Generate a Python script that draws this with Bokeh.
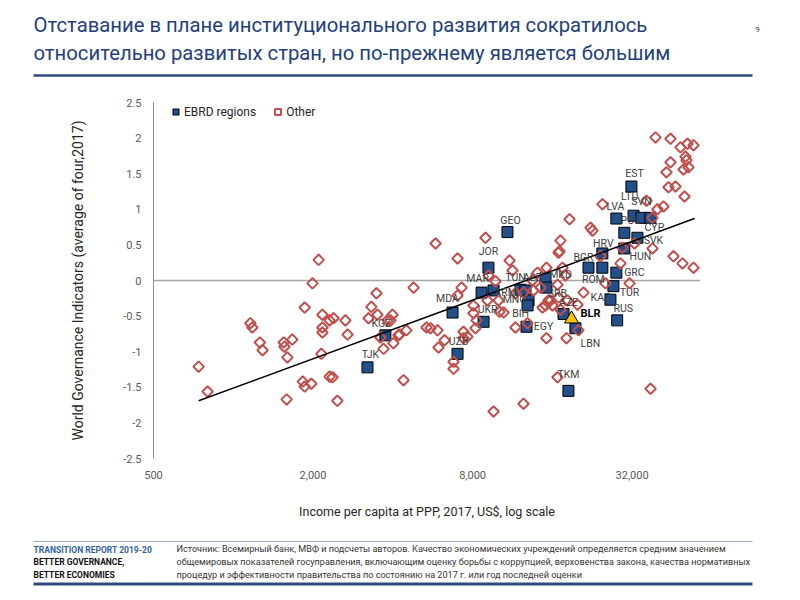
import numpy as np
from bokeh.plotting import figure
from bokeh.layouts import column
from bokeh.models import (ColumnDataSource, Range1d, FixedTicker, NumeralTickFormatter,
                          CustomJSTickFormatter, Span, Legend, LegendItem)
from bokeh.core.properties import value
from bokeh.embed import file_html
from bokeh.resources import INLINE

FONT = "Roboto"

# --- data ---
ebrd_codes = ["TJK", "KGZ", "MDA", "UZB", "UKR", "MAR", "JOR", "ARM", "GEO", "TUN",
              "ALB", "MNG", "BIH", "EGY", "MKD", "SRB", "AZE", "LBN", "TKM", "BGR",
              "ROM", "HRV", "KAZ", "TUR", "GRC", "LVA", "RUS", "POL", "HUN", "EST",
              "LTU", "SVK", "SVN", "CYP"]
ebrd_income = [3210, 3750, 6720, 7020, 8800, 8650, 9180, 9600, 10830, 12130,
               12670, 13010, 12900, 12780, 15070, 15200, 17630, 19550, 18400, 21900,
               24700, 24700, 26500, 27200, 27900, 27900, 28100, 29900, 29900, 31800,
               32400, 33500, 34700, 37500]
ebrd_wgi = [-1.22, -0.77, -0.45, -1.03, -0.58, -0.17, 0.18, -0.14, 0.68, -0.13,
            -0.14, -0.28, -0.35, -0.65, 0.03, -0.10, -0.47, -0.67, -1.55, 0.18,
            0.18, 0.38, -0.27, -0.08, 0.11, 0.87, -0.56, 0.67, 0.45, 1.32,
            0.91, 0.60, 0.88, 0.88]

blr_income = [18900]
blr_wgi = [-0.54]

other_income = [740, 800, 1160, 1180, 1260, 1290, 1550, 1560, 1670, 1600,
                1590, 1830, 1860, 1970, 2100, 1990, 1860, 2170, 2310, 2390,
                2170, 2170, 2150, 2310, 2370, 2470, 2650, 2700, 3240, 3320,
                3470, 3500, 3590, 3690, 3920, 3990, 4020, 4200, 4390, 4500,
                4790, 5360, 5550, 5900, 5800, 6270, 5950, 6780, 6780, 7020,
                7270, 7020, 7390, 7650, 8060, 8060, 8280, 8200, 8950, 9190,
                9760, 10110, 11030, 11320, 9600, 12450, 16730, 37550, 11610, 12450,
                13580, 14430, 15470, 16880, 16730, 17930, 15200, 17470, 14060, 13460,
                20970, 19910, 17170, 15080, 11610, 12890, 15200, 18090, 20080, 10470,
                10020, 9100, 14690, 16880, 18570, 22290, 22680, 17170, 17020, 24740,
                25390, 31280, 28920, 29430, 32660, 38190, 45840, 49560, 54540, 36260,
                39890, 42030, 38190, 39200, 44660, 48720, 51760, 54540, 50870, 51300,
                44660, 43130, 50000, 52200, 43890, 46640, 50440, 24320, 3820, 4240,
                7390, 18250, 15740, 16020]
other_wgi = [-1.21, -1.56, -0.60, -0.66, -0.87, -0.98, -0.87, -0.93, -0.83, -1.08,
             -1.67, -1.42, -1.49, -1.45, 0.29, -0.04, -0.38, -0.48, -0.56, -0.53,
             -0.66, -0.73, -1.03, -1.35, -1.36, -1.69, -0.56, -0.76, -0.53, -0.37,
             -0.18, -0.48, -0.80, -0.96, -0.56, -0.48, -0.88, -0.77, -1.40, -0.70,
             -0.10, -0.66, -0.67, -0.70, 0.52, -0.84, -0.94, -1.14, -1.24, 0.31,
             -0.10, -0.21, -0.72, -0.79, -0.35, -0.46, -0.56, -0.67, 0.60, 0.07,
             -0.01, -0.44, 0.28, 0.14, -1.84, -1.73, -1.36, -1.52, -0.18, -0.17,
             -0.14, -0.10, -0.28, -0.24, -0.06, 0.07, 0.18, 0.18, 0.11, 0.00,
             -0.17, -0.34, -0.41, -0.35, -0.66, -0.60, -0.81, -0.81, -0.70, -0.45,
             -0.28, -0.28, -0.38, 0.39, 0.86, 0.74, 0.70, 0.56, 0.41, 1.07,
             -0.04, -0.04, 0.24, 0.46, 0.52, 0.45, 0.34, 0.24, 0.18, 1.12,
             1.00, 1.04, 0.88, 2.01, 1.99, 1.87, 1.92, 1.90, 1.74, 1.69,
             1.66, 1.52, 1.56, 1.59, 1.31, 1.32, 1.18, 0.34, -0.56, -0.76,
             -0.81, -0.28, -0.28, -0.35]

trend_income = [740, 55000]
trend_wgi = [-1.69, 0.87]

x_ticks = [500, 2000, 8000, 32000]
y_ticks = [-2.5, -2, -1.5, -1, -0.5, 0, 0.5, 1, 1.5, 2, 2.5]

title_lines = ["Отставание в плане институционального развития сократилось",
               "относительно развитых стран, но по-прежнему является большим"]
source_lines = [
    "Источник: Всемирный банк, МВФ и подсчеты авторов. Качество экономических учреждений определяется средним значением",
    "общемировых показателей госуправления, включающим оценку борьбы с коррупцией, верховенства закона, качества нормативных",
    "процедур и эффективности правительства по состоянию на 2017 г. или год последней оценки",
]
brand_lines = ["TRANSITION REPORT 2019-20", "BETTER GOVERNANCE,", "BETTER ECONOMIES"]

# label placement (pixels, + is right / down)
label_offsets = {
    "EST": (3, -13), "LTU": (-4, -19), "SVN": (0, -16), "LVA": (-1, -12), "POL": (6, -12),
    "CYP": (4, 10), "SVK": (16, 3), "HUN": (16, 8), "HRV": (1, -10), "BGR": (-5, -10),
    "ROM": (-9, 12), "GRC": (18, 0), "TUR": (16, 6), "KAZ": (-10, -2), "RUS": (6, -12),
    "LBN": (15, 15), "AZE": (5, -11), "EGY": (17, 0), "TKM": (0, -16), "BIH": (-7, 8),
    "MNG": (-14, -1), "ARM": (12, 2), "TUN": (-5, -12), "ALB": (7, -13), "MKD": (15, -4),
    "SRB": (11, 6), "MAR": (-4, -14), "JOR": (0, -16), "GEO": (3, -12), "MDA": (-5, -14),
    "UKR": (4, -12), "UZB": (1, -12), "KGZ": (-4, -12), "TJK": (3, -13),
}

W = 792
BLUE = "#24407a"


def blank(top, bottom):
    # a plain strip whose data units are page pixels (y grows downward)
    f = figure(width=W, height=bottom - top, x_range=Range1d(0, W), y_range=Range1d(bottom, top),
               toolbar_location=None, output_backend="svg", min_border=0,
               x_axis_location=None, y_axis_location=None, frame_align=False)
    f.grid.visible = False
    f.outline_line_color = None
    return f


# header
hdr = blank(0, 90)
hdr.text([33, 33], [24, 52], text=title_lines, text_font=value(FONT), text_font_size="20.3px",
         text_color=BLUE, text_baseline="middle")
hdr.text([757], [29], text=["9"], text_font=value(FONT), text_font_size="8px",
         text_color="#404040", text_align="center", text_baseline="middle")
hdr.segment([33], [75], [752], [75], line_color="#2f4b7c", line_width=2.5)

# chart: frame at page x 153..700, y 102..458
p = figure(
    width=W, height=440,
    x_axis_type="log",
    x_range=Range1d(500, 57960), y_range=Range1d(-2.5, 2.5),
    toolbar_location=None, output_backend="svg", frame_align=False,
    min_border_left=153, min_border_right=92, min_border_top=12, min_border_bottom=72,
)
p.outline_line_color = None
p.grid.visible = False

p.xaxis.ticker = FixedTicker(ticks=x_ticks)
p.xaxis.formatter = NumeralTickFormatter(format="0,0")
p.xaxis.axis_line_color = None
p.xaxis.major_tick_line_color = None
p.xaxis.minor_tick_line_color = None
p.xaxis.major_tick_out = 0
p.xaxis.major_tick_in = 0
p.xaxis.major_label_standoff = 12
p.xaxis.axis_label = "Income per capita at PPP, 2017, US$, log scale"
p.xaxis.axis_label_standoff = 22

p.yaxis.ticker = FixedTicker(ticks=y_ticks)
p.yaxis.formatter = CustomJSTickFormatter(code="return String(tick)")
p.yaxis.axis_line_color = "#8c8c8c"
p.yaxis.major_tick_line_color = None
p.yaxis.minor_tick_line_color = None
p.yaxis.major_tick_out = 0
p.yaxis.major_tick_in = 0
p.yaxis.major_label_standoff = 12
p.yaxis.axis_label = "World Governance Indicators (average of four,2017)"
p.yaxis.axis_label_standoff = 34

for ax in (p.xaxis, p.yaxis):
    ax.major_label_text_font = FONT
    ax.major_label_text_font_size = "11px"
    ax.major_label_text_color = "#595959"
    ax.axis_label_text_font = FONT
    ax.axis_label_text_font_style = "normal"
    ax.axis_label_text_color = "#262626"
p.xaxis.axis_label_text_font_size = "12.5px"
p.yaxis.axis_label_text_font_size = "14px"

p.add_layout(Span(location=0, dimension="width", line_color="#a6a6a6",
                  line_width=1.5, level="underlay"))

ebrd_src = ColumnDataSource(dict(
    x=ebrd_income, y=ebrd_wgi, code=ebrd_codes,
    xo=[label_offsets[c][0] for c in ebrd_codes],
    yo=[label_offsets[c][1] for c in ebrd_codes],
))
sq = p.scatter("x", "y", source=ebrd_src, marker="square", size=11,
               fill_color="#23508a", line_color="black", line_width=1)
p.scatter(blr_income, blr_wgi, marker="triangle", size=14,
          fill_color="#ffc000", line_color="black", line_width=1)
dm = p.scatter(other_income, other_wgi, marker="square", angle=np.pi / 4, size=7.5,
               fill_color=None, line_color="#c0504d", line_width=2)
p.line(trend_income, trend_wgi, line_color="black", line_width=1.5)

p.text("x", "y", text="code", source=ebrd_src, x_offset="xo", y_offset="yo",
       text_font=value(FONT), text_font_size="10.5px", text_color="#404040",
       text_align="center", text_baseline="middle")
p.text(blr_income, blr_wgi, text=["BLR"], x_offset=19, y_offset=-5,
       text_font=value(FONT), text_font_size="11px", text_font_style="bold",
       text_color="black", text_align="center", text_baseline="middle")

legend = Legend(items=[LegendItem(label="EBRD regions", renderers=[sq]),
                       LegendItem(label="Other", renderers=[dm])],
                orientation="horizontal", location=(15, 339),
                border_line_color=None, background_fill_alpha=0,
                label_text_font=FONT, label_text_font_size="12px", label_text_color="#262626",
                glyph_width=15, glyph_height=15, spacing=14, padding=2, margin=0,
                label_standoff=1)
p.add_layout(legend)

# footer
ftr = blank(530, 592)
ftr.segment([33], [541], [752], [541], line_color="#9fb0c8", line_width=1)
ftr.segment([33], [583.5], [752], [583.5], line_color="#2f4b7c", line_width=3)
ftr.text([33] * 3, [549, 561.5, 574], text=brand_lines, text_font=value(FONT),
         text_font_size="8.5px", text_font_style="bold",
         text_color=["#2f62a3", "#111111", "#111111"], text_baseline="middle")
ftr.text([176] * 3, [548, 561, 574], text=source_lines, text_font=value(FONT),
         text_font_size="9.1px", text_color="#333333", text_baseline="middle")

page = column(hdr, p, ftr, spacing=0)
open("out.html", "w").write(file_html(page, INLINE))
